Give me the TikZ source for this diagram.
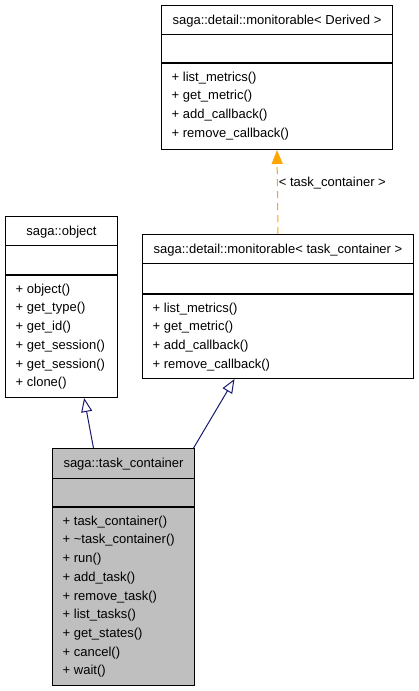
\documentclass[tikz,border=0pt]{standalone}
\usepackage{fontspec}
\setmainfont{Liberation Sans}
\usetikzlibrary{arrows.meta,calc}

\definecolor{edgeblue}{HTML}{191970}
\definecolor{tmplorange}{HTML}{FFA500}
\definecolor{classgray}{HTML}{BFBFBF}

\tikzset{
  classbox/.style={draw=black, line width=1pt, rectangle, anchor=north west, inner sep=0pt},
  classtitle/.style={anchor=base, inner sep=0pt, font=\fontsize{13}{15}\selectfont},
  member/.style={anchor=base west, inner sep=0pt, font=\fontsize{13}{15}\selectfont},
  inherit/.style={edgeblue, line width=1pt, -{Triangle[open,length=14pt,width=11pt]}},
  usetmpl/.style={tmplorange, line width=1pt, dash pattern=on 7pt off 5pt, -{Triangle[length=14pt,width=11pt]}},
}

\begin{document}
\begin{tikzpicture}[x=1pt,y=-1pt]
\useasboundingbox (0,0) rectangle (419,691);

% saga::detail::monitorable< Derived >
\node[classbox, minimum width=231pt, minimum height=144pt] (tmpl) at (161,5) {};
\draw[line width=1pt] ($(tmpl.north west)+(0,29)$) -- ($(tmpl.north east)+(0,29)$);
\draw[line width=1.7pt] ($(tmpl.north west)+(0,58)$) -- ($(tmpl.north east)+(0,58)$);
\node[classtitle] (tmpl-title) at ($(tmpl.north)+(0,19)$) {saga::detail::monitorable< Derived >};
\foreach \m [count=\i from 0] in {+ list\_metrics(), + get\_metric(), + add\_callback(), + remove\_callback()}
  \node[member] (tmpl-m\i) at ($(tmpl.north west)+(10.5,76.2+18.7*\i)$) {\m};

% saga::object
\node[classbox, minimum width=112pt, minimum height=181pt] (obj) at (5,216) {};
\draw[line width=1pt] ($(obj.north west)+(0,29)$) -- ($(obj.north east)+(0,29)$);
\draw[line width=1.7pt] ($(obj.north west)+(0,59)$) -- ($(obj.north east)+(0,59)$);
\node[classtitle] (obj-title) at ($(obj.north)+(0,19)$) {saga::object};
\foreach \m [count=\i from 0] in {+ object(), + get\_type(), + get\_id(), + get\_session(), + get\_session(), + clone()}
  \node[member] (obj-m\i) at ($(obj.north west)+(10.5,77.2+18.7*\i)$) {\m};

% saga::detail::monitorable< task_container >
\node[classbox, minimum width=271pt, minimum height=144pt] (mon) at (142,234) {};
\draw[line width=1pt] ($(mon.north west)+(0,29)$) -- ($(mon.north east)+(0,29)$);
\draw[line width=1.7pt] ($(mon.north west)+(0,60)$) -- ($(mon.north east)+(0,60)$);
\node[classtitle] (mon-title) at ($(mon.north)+(0,19)$) {saga::detail::monitorable< task\_container >};
\foreach \m [count=\i from 0] in {+ list\_metrics(), + get\_metric(), + add\_callback(), + remove\_callback()}
  \node[member] (mon-m\i) at ($(mon.north west)+(10.5,78.2+18.7*\i)$) {\m};

% saga::task_container
\node[classbox, fill=classgray, minimum width=142pt, minimum height=237pt] (tc) at (52,448) {};
\draw[line width=1pt] ($(tc.north west)+(0,30)$) -- ($(tc.north east)+(0,30)$);
\draw[line width=1.7pt] ($(tc.north west)+(0,59)$) -- ($(tc.north east)+(0,59)$);
\node[classtitle] (tc-title) at ($(tc.north)+(0,19.5)$) {saga::task\_container};
\foreach \m [count=\i from 0] in {+ task\_container(), + \textasciitilde task\_container(), + run(), + add\_task(), + remove\_task(), + list\_tasks(), + get\_states(), + cancel(), + wait()}
  \node[member] (tc-m\i) at ($(tc.north west)+(10.5,77.2+18.7*\i)$) {\m};

% edges
\draw[inherit] ($(tc.north west)!0.29!(tc.north east)$) -- ($(obj.south west)!0.70!(obj.south east)$);
\draw[inherit] ($(tc.north west)!0.99!(tc.north east)$) -- ($(mon.south west)!0.34!(mon.south east)$);
\draw[usetmpl] (mon.north) -- (tmpl.south)
  node[pos=0.61, anchor=west, inner sep=1pt, text=black, font=\fontsize{13}{15}\selectfont] (tmpl-arg) {< task\_container >};

\end{tikzpicture}
\end{document}
